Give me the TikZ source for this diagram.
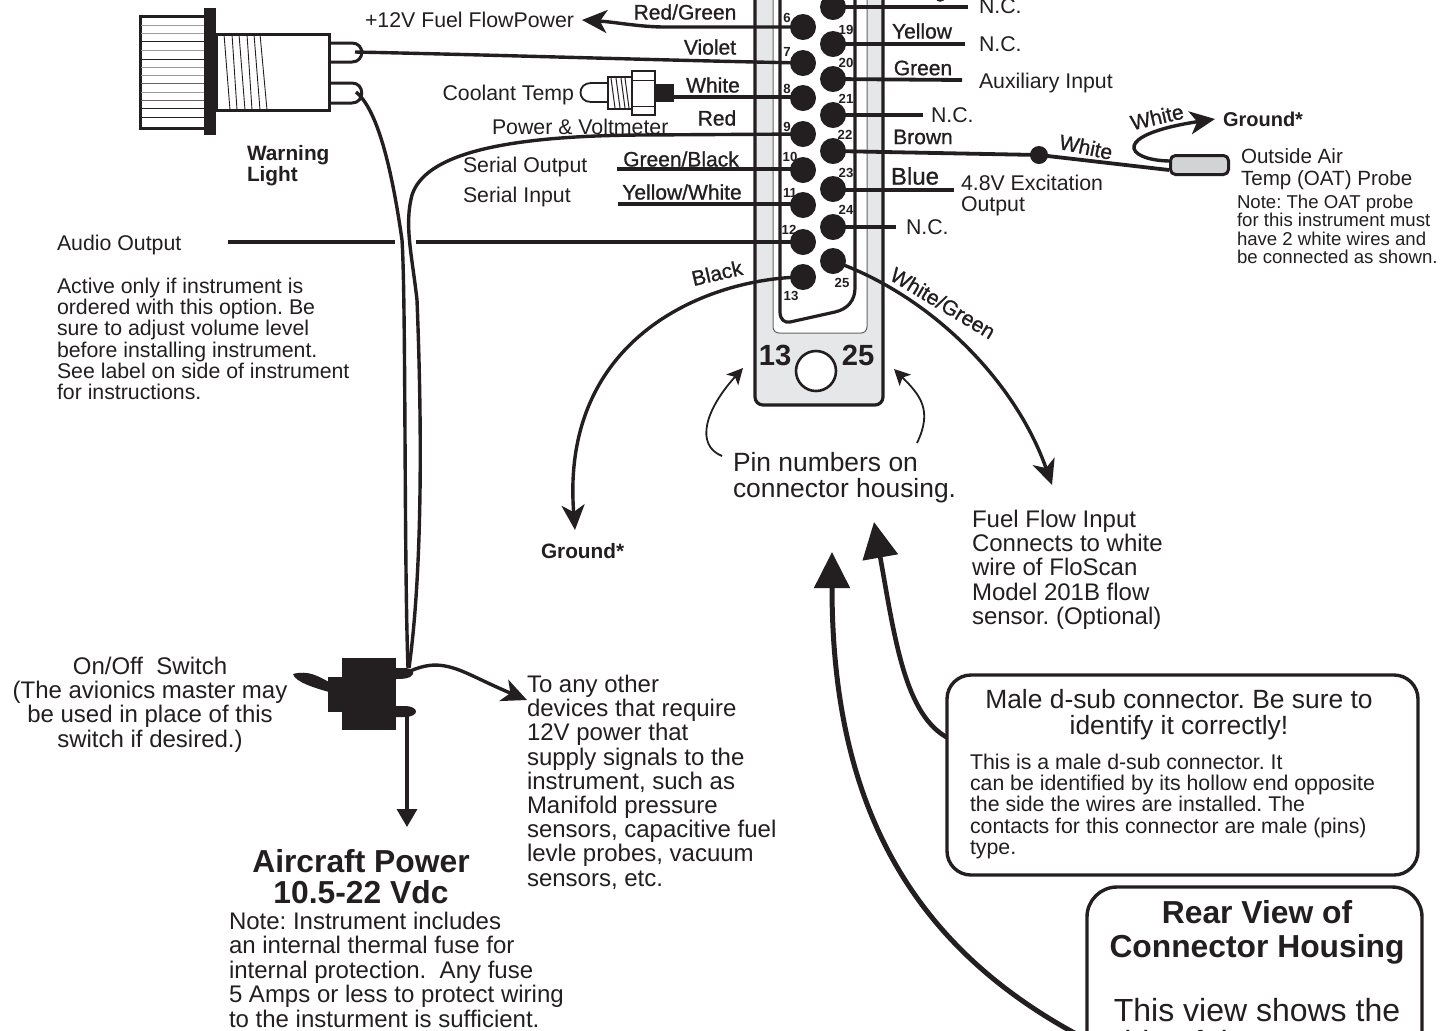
\documentclass[tikz,border=0pt]{standalone}
\usepackage{fontspec}
\setmainfont{Liberation Sans}
\newfontfamily\wirefont[FakeBold=0.9]{Liberation Sans}
\usetikzlibrary{arrows.meta}
\definecolor{ink}{HTML}{231F20}
\definecolor{housing}{HTML}{E6E7E8}
\definecolor{probe}{HTML}{D1D3D4}
\tikzset{
  x=.5pt,y=-.5pt,
  every node/.style={inner sep=0pt,outer sep=0pt,text=ink},
  txt/.style={font=\frenchspacing\fontsize{10.65}{10.6}\selectfont,align=left},
  note/.style={font=\frenchspacing\fontsize{12}{12.1}\selectfont,align=left},
  small/.style={font=\frenchspacing\fontsize{9.3}{9.25}\selectfont,align=left},
  big/.style={font=\frenchspacing\fontsize{13.2}{13}\selectfont,align=center},
  head/.style={font=\bfseries\fontsize{15.9}{15.6}\selectfont,align=center},
  boldlbl/.style={font=\bfseries\fontsize{10.4}{10.5}\selectfont,align=left},
  wlbl/.style={font=\wirefont\fontsize{10.5}{10.5}\selectfont},
  pinno/.style={font=\bfseries\fontsize{6.6}{7}\selectfont},
  pinnum/.style={circle,fill=ink,minimum size=13pt},
  wire/.style={draw=ink,line width=1.7pt},
  thick wire/.style={draw=ink,line width=1.9pt},
  part/.style={draw=ink,line width=1.5pt},
  tiny tip/.style={-{Stealth[length=12.5pt,width=11.5pt,inset=3.5pt]}},
  big tip/.style={-{Stealth[length=18pt,width=17.5pt,inset=0pt]}},
  call/.style={rounded corners=12pt,draw=ink,line width=1.7pt,fill=white},
}
\begin{document}
\begin{tikzpicture}
\fill[white] (0,0) rectangle (1447,1030);
\useasboundingbox (0,0) rectangle (1447,1030);
\clip (0,0) rectangle (1447,1030);

% ---------- connector housing
\draw[part,line width=1.6pt,fill=housing,rounded corners=4pt] (755,-30) -- (755,405) -- (883,405) -- (883,-30);
\draw[draw=ink!70,line width=.5pt,fill=white,rounded corners=3pt] (773,-30) -- (773,333) -- (867,333) -- (867,-30);
\draw[part,line width=1.6pt] (780,-30) -- (780,312) .. controls (780,320) and (785,323) .. (790,322) -- (835,312) .. controls (848,309) and (855,300) .. (855,288) -- (855,-30);
\node[circle,draw=ink,line width=1.3pt,fill=white,minimum size=20pt] (hole) at (816,371) {};
\node[font=\bfseries\fontsize{14.6}{15}\selectfont] (n13) at (775,355) {13};
\node[font=\bfseries\fontsize{14.6}{15}\selectfont] (n25) at (858,355) {25};

% ---------- pins
\foreach \n/\px/\py in {5/803/-14,6/803/27,7/803/63,8/803/98,9/803/134,10/803/170,11/803/205,12/803/242,13/803/277,
                       18/833/7,19/833/44,20/833/79,21/833/115,22/833/151,23/833/189,24/833/227,25/833/261}
  \coordinate (c\n) at (\px,\py);

% ---------- named free ends
\coordinate (e8) at (674,97);
\coordinate (e10) at (617,169);
\coordinate (e11) at (618,204);
\coordinate (e18) at (968,7);
\coordinate (e19) at (965,44);
\coordinate (e20) at (962,80);
\coordinate (e21) at (923,115);
\coordinate (e23) at (954,190);
\coordinate (e24) at (896,227);

% ---------- warning light
\draw[part,fill=white] (140,16) rectangle (205,128);
\foreach \yy/\cc in {25/ink!45,33/ink!45,41/ink,50/ink!45,59/ink,67/ink!45,75/ink!45,83/ink!70,92/ink!45,100/ink!70,108/ink,117/ink}
  \draw[\cc,line width=.45pt] (141,\yy) -- (204,\yy);
\draw[part,fill=white] (216,34) rectangle (329,110);
\foreach \tx/\bx in {224/230,232/237,239/245,247/252,254/260,260/267}
  \draw[ink,line width=.45pt] (\tx,34) -- (\bx,110);
\fill[ink] (204,8) rectangle (216,135);
\draw[part] (329,43) -- (352,43) .. controls (365,43) and (365,62) .. (352,62) -- (329,62);
\draw[part] (329,83) -- (352,83) .. controls (365,83) and (365,103) .. (352,103) -- (329,103);
\node[boldlbl,anchor=north west] (warn) at (247,145) {Warning\\Light};

% ---------- coolant sensor
\draw[ink,line width=.9pt,fill=white] (608,83) -- (591,83) .. controls (577,83) and (577,102) .. (591,102) -- (608,102);
\draw[ink,line width=.7pt,fill=white] (608,77) rectangle (632,109);
\foreach \tx in {611,616,621,625} \draw[ink,line width=.5pt] (\tx,78) -- (\tx+4,108);
\draw[ink,line width=.7pt,fill=white] (632,71) rectangle (655,115);
\draw[ink,line width=.5pt] (632,80) -- (655,80) (632,106) -- (655,106);
\fill[ink] (654,84) -- (674,84) -- (674,102) -- (654,102) -- cycle;

% ---------- switch
\fill[ink] (342,658) rectangle (396,730);
\fill[ink] (328,677) rectangle (343,712);
\fill[ink] (293,674) .. controls (308,670) and (318,676) .. (329,682) -- (329,692) .. controls (315,688) and (295,682) .. cycle;
\fill[ink] (396,668) -- (404,668) .. controls (412,668) and (414,672) .. (413,674) .. controls (411,679) and (402,679) .. (396,679) -- cycle;
\fill[ink] (396,706) -- (404,706) .. controls (420,706) and (420,717) .. (404,717) -- (396,717) -- cycle;
\coordinate (swTop) at (408,672);
\coordinate (swBot) at (407,711);

% ---------- wires through the instrument
\coordinate (lamp1) at (355,52);
\coordinate (lamp2) at (356,92);
\coordinate (fuel) at (582,20);
\draw[wire,tiny tip] (c6) -- (665,27) .. controls (640,27) and (615,22) .. (fuel);
\draw[wire] (lamp1) .. controls (500,55) and (650,60) .. (c7);
\draw[wire] (e8) -- (c8 |- e8);
\draw[wire] (c9) -- (640,135) .. controls (500,136) and (425,155) .. (412,195)
   .. controls (404,225) and (412,255) .. (417,300) .. controls (421,400) and (424,560) .. (409,668);
\draw[wire] (lamp2) .. controls (378,110) and (392,170) .. (402,240)
   .. controls (406,300) and (404,560) .. (408,668);
\draw[thick wire] (e10) -- (e10 -| c10);
\draw[thick wire] (e11) -- (e11 -| c11);
\coordinate (au1) at (228,242);
\coordinate (au2) at (395,242);
\coordinate (au3) at (416,242);
\draw[thick wire] (au1) -- (au2);
\draw[thick wire] (au3) -- (c12);
\coordinate (gnd) at (575,530);
\draw[wire,tiny tip] (c13) .. controls (710,278) and (560,335) .. (gnd);
\coordinate (ff) at (1052,485);
\draw[wire,tiny tip] (c25) .. controls (930,295) and (1015,380) .. (ff);
\draw[thick wire] (c18) -- (e18);
\draw[thick wire] (c19) -- (e19);
\draw[thick wire] (c20) -- (e20);
\draw[thick wire] (c21) -- (e21);
\draw[thick wire] (c23 |- e23) -- (e23);
\draw[thick wire] (c24) -- (e24);

% ---------- OAT probe
\node[draw=ink,line width=1.5pt,fill=probe,rounded corners=2.5pt,minimum width=29pt,minimum height=9.5pt] (oat) at (1199.5,165) {};
\node[circle,fill=ink,minimum size=9pt] (dot) at (1039,155) {};
\coordinate (oatIn) at (1169,170);
\coordinate (oatOut) at (1169,161);
\coordinate (gndR) at (1215,119);
\draw[thick wire] (c22) -- (dot.center) -- (oatIn);
\draw[wire,tiny tip] (oatOut) .. controls (1125,160) and (1110,135) .. (gndR);

% ---------- switch wires
\coordinate (dev) at (527,700);
\coordinate (pw) at (407,827);
\draw[wire,tiny tip] (swTop) .. controls (445,655) and (460,672) .. (dev);
\draw[wire,-{Stealth[length=9pt,width=10pt,inset=0pt]}] (swBot) -- (pw);

% ---------- pin dots on top of wires
\foreach \n in {5,6,7,8,9,10,11,12,13,18,19,20,21,22,23,24,25}
  \node[pinnum] (p\n) at (c\n) {};
\foreach \n/\px/\py in {6/787/18,7/787/52,8/787/89,9/787/127,10/790/157,11/790/193,12/789/230,13/791/296,
                       19/846/30,20/846/63,21/846/99,22/845/135,23/846/173,24/846/210,25/842/283}
  \node[pinno] (no\n) at (\px,\py) {\n};

% ---------- housing arrows
\coordinate (pnL) at (722,456);
\coordinate (pnLt) at (743,368);
\coordinate (pnR) at (917,443);
\coordinate (pnRt) at (894,369);
\draw[ink,line width=.9pt,-{Stealth[length=8pt,width=8pt,inset=2pt]}] (pnL) .. controls (695,445) and (705,410) .. (pnLt);
\draw[ink,line width=.9pt,-{Stealth[length=8pt,width=8pt,inset=2pt]}] (pnR) .. controls (933,410) and (920,395) .. (pnRt);

% ---------- callout boxes and big arrows
\coordinate (tipA) at (874,522);
\coordinate (tipB) at (832,552);
\coordinate (startB) at (1080,1036);
\coordinate (startA) at (948,738);
\draw[ink,line width=2.5pt,big tip] (startB) .. controls (900,940) and (832,790) .. (tipB);
\draw[ink,line width=2.3pt,big tip] (startA) .. controls (905,715) and (895,640) .. (tipA);
\node[call,minimum width=235.5pt,minimum height=100pt] (male) at (1182.5,775) {};
\draw[call,rounded corners=15pt] (1087,1060) -- (1087,887) -- (1422,887) -- (1422,1060);

% ---------- left hand texts
\node[txt,anchor=east] (t1) at (574,20) {+12V Fuel FlowPower};
\node[txt,anchor=east] (t2) at (574,95) {Coolant Temp};
\node[txt,anchor=west] (t3) at (492,127) {Power \& Voltmeter};
\node[txt,anchor=west] (t4) at (463,167) {Serial Output};
\node[txt,anchor=west] (t5) at (463,197) {Serial Input};
\node[txt,anchor=west] (t6) at (57,245) {Audio Output};
\node[txt,anchor=north west] (t7) at (57,278) {Active only if instrument is\\ordered with this option. Be\\sure to adjust volume level\\before installing instrument.\\See label on side of instrument\\for instructions.};
\node[note,align=center,anchor=north] (t8) at (150,657) {On/Off\ \ Switch\\(The avionics master may\\be used in place of this\\switch if desired.)};
\node[note,anchor=north west] (t9) at (527,675) {To any other\\devices that require\\12V power that\\supply signals to the\\instrument, such as\\Manifold pressure\\sensors, capacitive fuel\\levle probes, vacuum\\sensors, etc.};
\node[head,anchor=north] (t10) at (361,849) {Aircraft Power\\10.5-22 Vdc};
\node[note,anchor=north west,font=\frenchspacing\fontsize{12}{12.2}\selectfont] (t11) at (229,912) {Note: Instrument includes\\an internal thermal fuse for\\internal protection.\ \ Any fuse\\5 Amps or less to protect wiring\\to the insturment is sufficient.};
\node[boldlbl,anchor=west] (t12) at (541,551) {Ground*};
\node[big,anchor=north west,align=left] (t13) at (733,452) {Pin numbers on\\connector housing.};
\node[note,anchor=north west] (t14) at (972,510) {Fuel Flow Input\\Connects to white\\wire of FloScan\\Model 201B flow\\sensor. (Optional)};

% ---------- right hand texts
\node[txt,anchor=west] (r1) at (979,6) {N.C.};
\node[txt,anchor=west] (r2) at (979,44) {N.C.};
\node[txt,anchor=west] (r3) at (979,83) {Auxiliary Input};
\node[txt,anchor=west] (r4) at (931,115) {N.C.};
\node[txt,anchor=north west] (r5) at (961,175) {4.8V Excitation\\Output};
\node[txt,anchor=west] (r6) at (906,227) {N.C.};
\node[boldlbl,anchor=west,font=\bfseries\fontsize{10}{10.5}\selectfont] (r7) at (1223,119) {Ground*};
\node[txt,anchor=north west,font=\fontsize{10.3}{10.6}\selectfont] (r8) at (1241,149) {Outside Air\\Temp (OAT) Probe};
\node[small,anchor=north west] (r9) at (1237,195) {Note: The OAT probe\\for this instrument must\\have 2 white wires and\\be connected as shown.};

% ---------- wire labels
\node[wlbl] (w1) at (685,12) {Red/Green};
\node[wlbl] (w2) at (710,47) {Violet};
\node[wlbl] (w3) at (713,85) {White};
\node[wlbl] (w4) at (717,118) {Red};
\node[wlbl] (w5) at (681,159) {Green/Black};
\node[wlbl] (w6) at (682,192) {Yellow/White};
\node[wlbl] (w7) at (923,-8) {Orange};
\node[wlbl] (w8) at (922,31) {Yellow};
\node[wlbl] (w9) at (923,68) {Green};
\node[wlbl] (w10) at (923,137) {Brown};
\node[wlbl,font=\wirefont\fontsize{12}{12}\selectfont] (w11) at (915,176) {Blue};
\node[wlbl,rotate=-12] (w12) at (1086,147) {White};
\node[wlbl,rotate=13] (w13) at (1157,117) {White};
\node[wlbl,rotate=13] (w14) at (717,273) {Black};
\node[wlbl,rotate=-31] (w15) at (943,303) {White/Green};

% ---------- callout texts
\node[big,anchor=north] (m1) at (1179,689) {Male d-sub connector. Be sure to\\identify it correctly!};
\node[txt,anchor=north west] (m2) at (970,754) {This is a male d-sub connector. It\\can be identified by its hollow end opposite\\the side the wires are installed. The\\contacts for this connector are male (pins)\\type.};
\node[head,anchor=north] (h1) at (1257,900) {Rear View of\\[1.4pt]Connector Housing};
\node[font=\frenchspacing\fontsize{16}{16}\selectfont,align=center,anchor=north] (h2) at (1257,998) {This view shows the\\side of the connector};
\end{tikzpicture}
\end{document}
